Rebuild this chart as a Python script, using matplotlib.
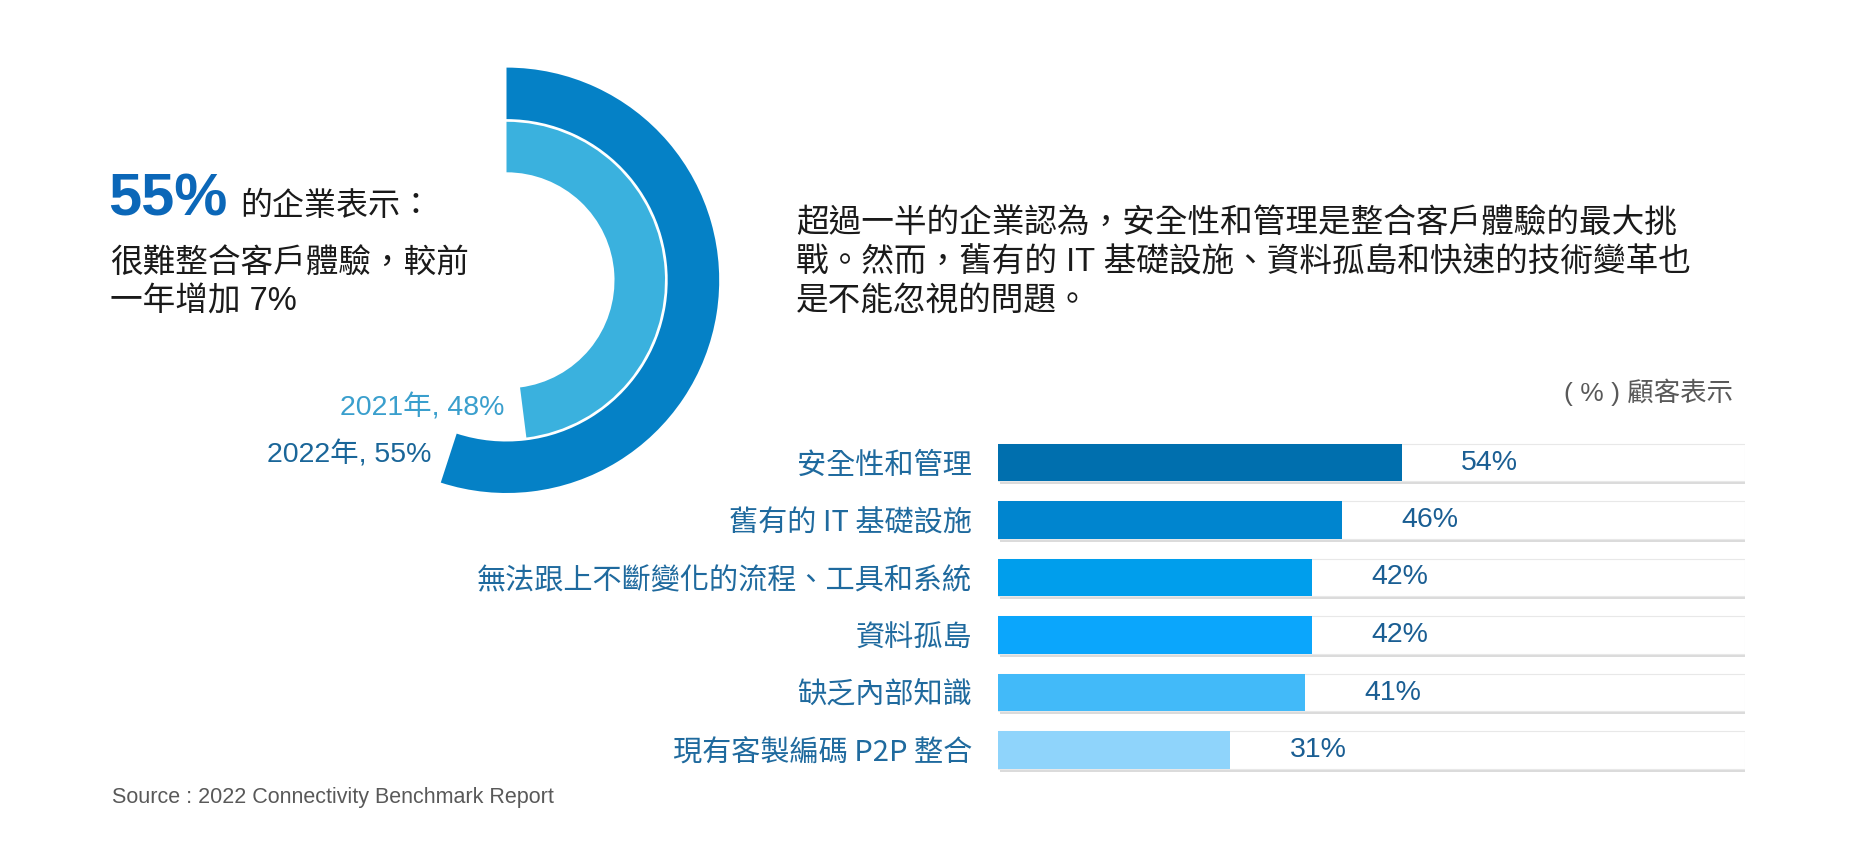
import matplotlib
matplotlib.use('Agg')
import matplotlib.pyplot as plt
import matplotlib.patheffects as pe

plt.rcParams['font.family'] = ['Liberation Sans', 'Noto Sans CJK TC']

# 甜甜圈資料
donut_labels = ['2021年, 48%', '2022年, 55%']
donut_vals = [48, 55]
donut_colors = ['#3AB1DE', '#0581C6']
donut_text_colors = ['#3A9FCD', '#1A6699']

# 長條圖資料
categories = ['安全性和管理', '舊有的 IT 基礎設施', '無法跟上不斷變化的流程、工具和系統',
              '資料孤島', '缺乏內部知識', '現有客製編碼 P2P 整合']
values = [54, 46, 42, 42, 41, 31]
bar_colors = ['#006FAE', '#0085CF', '#009EEC', '#0BA6FC', '#42BAF9', '#8FD4FB']

paragraph_lines = ['超過一半的企業認為，安全性和管理是整合客戶體驗的最大挑',
                   '戰。然而，舊有的 IT 基礎設施、資料孤島和快速的技術變革也',
                   '是不能忽視的問題。']

W, H = 1861, 861
fig = plt.figure(figsize=(W / 100, H / 100), dpi=100)

def fx(px):
    return px / W

def fy(py):
    return 1 - py / H

# ---- 甜甜圈 ----
cx, cy, half = 506.5, 280.3, 230
axd = fig.add_axes([fx(cx - half), fy(cy + half), 2 * half / W, 2 * half / H])
# 外圈 2022, 內圈 2021
axd.pie([donut_vals[1], 100 - donut_vals[1]], radius=212.7, startangle=90,
        counterclock=False, colors=[donut_colors[1], 'none'],
        wedgeprops=dict(width=51.5, linewidth=0))
axd.pie([donut_vals[0], 100 - donut_vals[0]], radius=158.5, startangle=90,
        counterclock=False, colors=[donut_colors[0], 'none'],
        wedgeprops=dict(width=50.5, linewidth=0))
axd.set_xlim(-half, half)
axd.set_ylim(-half, half)
axd.set_aspect('equal')
axd.axis('off')

fig.text(fx(504), fy(408), donut_labels[0], ha='right', va='center',
         fontsize=20.5, color=donut_text_colors[0])
fig.text(fx(431), fy(455), donut_labels[1], ha='right', va='center',
         fontsize=20.5, color=donut_text_colors[1])

# ---- 左側文字 ----
fig.text(fx(108), fy(215), '55%', ha='left', va='baseline', fontsize=43,
         fontweight='bold', color='#0B67B8')
fig.text(fx(240), fy(215), '的企業表示：', ha='left', va='baseline',
         fontsize=23, color='#1a1a1a')
fig.text(fx(110), fy(264), '很難整合客戶體驗，較前', ha='left', va='center',
         fontsize=23.5, color='#1a1a1a')
fig.text(fx(110), fy(302), '一年增加 7%', ha='left', va='center',
         fontsize=23.5, color='#1a1a1a')

# ---- 右側段落 ----
for i, line in enumerate(paragraph_lines):
    fig.text(fx(796), fy(224 + 38.6 * i), line, ha='left', va='center',
             fontsize=23.5, color='#1a1a1a')

fig.text(fx(1733), fy(392), '( % ) 顧客表示', ha='right', va='center',
         fontsize=19, color='#595959')

# ---- 長條圖 ----
x0, x1 = 998.5, 1745
row0, step = 462.5, 57.5
top = row0 - step / 2
bottom = row0 + step * (len(values) - 0.5)
axb = fig.add_axes([fx(x0), fy(bottom), (x1 - x0) / W, (bottom - top) / H])
pos = list(range(len(values)))
shadow = [pe.SimplePatchShadow(offset=(1, -2), shadow_rgbFace='#9a9a9a', alpha=0.35), pe.Normal()]
track = axb.barh(pos, [100] * len(values), height=0.66, color='white',
                 edgecolor='#e8e8e8', linewidth=0.8)
for t in track:
    t.set_path_effects(shadow)
axb.barh(pos, values, height=0.66, color=bar_colors, linewidth=0)
for p, v in zip(pos, values):
    axb.annotate(f'{v}%', xy=(v, p), xytext=(43, 0), textcoords='offset points',
                 ha='left', va='center', fontsize=20.5, color='#1A5E93')
axb.set_xlim(0, 100)
axb.set_ylim(len(values) - 0.5, -0.5)
axb.set_yticks(pos, categories)
axb.tick_params(axis='y', length=0, pad=19, labelsize=21, labelcolor='#1F6A9E')
axb.set_xticks([])
for s in axb.spines.values():
    s.set_visible(False)
for lab in axb.get_yticklabels():
    lab.set_family(['Noto Sans CJK TC', 'Liberation Sans'])

fig.text(fx(112), fy(797), 'Source : 2022 Connectivity Benchmark Report',
         ha='left', va='center', fontsize=15.5, color='#595959')

fig.savefig('out.png', dpi=100, facecolor='white')
